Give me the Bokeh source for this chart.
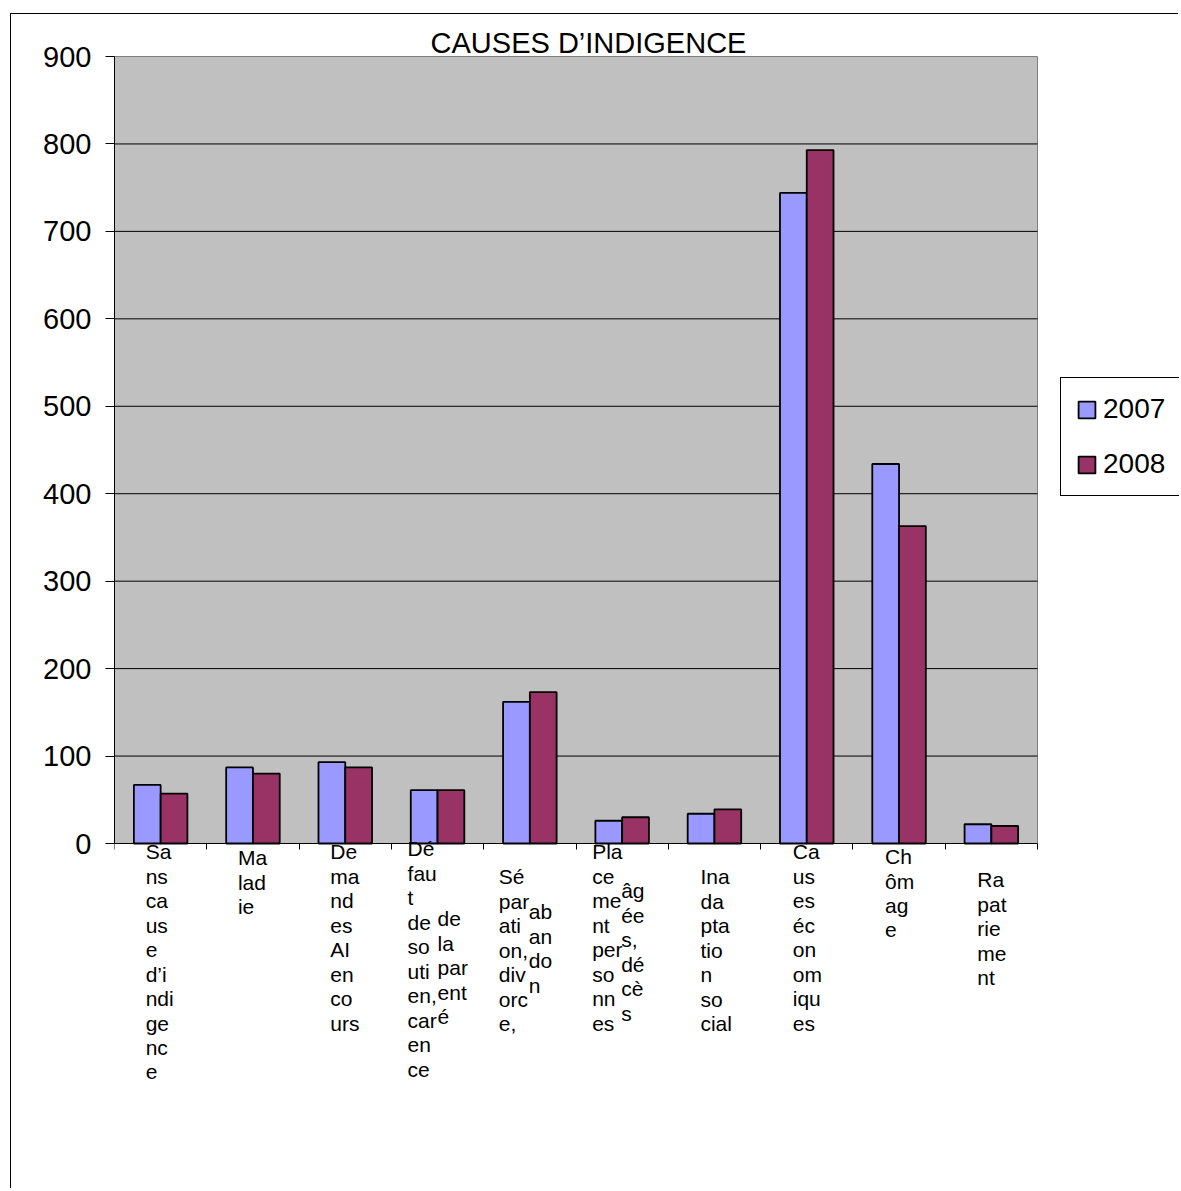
from bokeh.plotting import figure
from bokeh.models import (ColumnDataSource, FixedTicker, Label, Legend, LegendItem,
                          Range1d, BoxAnnotation)
from bokeh.embed import file_html
from bokeh.resources import INLINE

# ---------------- data ----------------
categories = [
    "Sans cause d’indigence",
    "Maladie",
    "Demandes AI en cours",
    "Défaut de soutien, carence de la parenté",
    "Séparation, divorce, abandon",
    "Placement personnes âgées, décès",
    "Inadaptation social",
    "Causes économiques",
    "Chômage",
    "Rapatriement",
]
series_names = ["2007", "2008"]
values_2007 = [67, 87, 93, 61, 162, 26, 34, 744, 434, 22]
values_2008 = [57, 80, 87, 61, 173, 30, 39, 793, 363, 20]
y_ticks = [0, 100, 200, 300, 400, 500, 600, 700, 800, 900]
title_text = "CAUSES D’INDIGENCE"

# wrapped label text as shown (columns of line fragments), per category
label_columns = [
    [["Sa", "ns", "ca", "us", "e", "d’i", "ndi", "ge", "nc", "e"]],
    [["Ma", "lad", "ie"]],
    [["De", "ma", "nd", "es", "AI", "en", "co", "urs"]],
    [["Dé", "fau", "t", "de", "so", "uti", "en,", "car", "en", "ce"],
     ["de", "la", "par", "ent", "é"]],
    [["Sé", "par", "ati", "on,", "div", "orc", "e,"],
     ["ab", "an", "do", "n"]],
    [["Pla", "ce", "me", "nt", "per", "so", "nn", "es"],
     ["âg", "ée", "s,", "dé", "cè", "s"]],
    [["Ina", "da", "pta", "tio", "n", "so", "cial"]],
    [["Ca", "us", "es", "éc", "on", "om", "iqu", "es"]],
    [["Ch", "ôm", "ag", "e"]],
    [["Ra", "pat", "rie", "me", "nt"]],
]
# layout: (dx px from category centre, first line offset px below axis) per column
label_layout = [
    [(-15, 8)],
    [(-15, 14)],
    [(-15, 8)],
    [(-30, 5), (0, 75)],
    [(-31, 33), (-1, 68)],
    [(-30, 8), (-1, 47)],
    [(-14, 33)],
    [(-14, 8)],
    [(-14, 13)],
    [(-14, 36)],
]

# ---------------- layout constants ----------------
W, H = 1168, 1175            # canvas (page origin at 11, 14)
OX, OY = 11, 14
ML, MB = 103, 30              # frame starts 103 px in, ends 30 px above bottom
PLOT_L, PLOT_R = 114, 1037    # page px of plot area
PLOT_T, PLOT_B = 56, 843
N = len(categories)
YMAX = 900
ux = (PLOT_R - PLOT_L) / N            # px per x unit
uy = (PLOT_B - PLOT_T) / YMAX          # px per y unit
frame_w = W - ML
frame_top, frame_bottom = OY, OY + H - MB
x_end = frame_w / ux
y_end = YMAX + (PLOT_T - frame_top) / uy
y_start = -(frame_bottom - PLOT_B) / uy

LINE_H = 24.5
FONT = "Liberation Sans"
C2007 = "#9999FF"
C2008 = "#993366"
BAR_W = 0.29

idx = list(range(N))
src = ColumnDataSource(dict(
    x07=[i + 0.5 - BAR_W / 2 for i in idx],
    x08=[i + 0.5 + BAR_W / 2 for i in idx],
    v07=values_2007,
    v08=values_2008,
))

p = figure(width=W, height=H, output_backend="svg", toolbar_location=None,
           x_range=Range1d(0, x_end), y_range=Range1d(y_start, y_end),
           min_border_left=ML, min_border_right=0,
           min_border_top=0, min_border_bottom=MB)
p.title = None
p.styles = {"margin-left": "10px", "margin-top": "13px",
            "border-left": "1px solid #000000", "border-top": "1px solid #000000"}

p.background_fill_color = "white"
p.border_fill_color = "white"
p.outline_line_color = None
p.xgrid.visible = False
p.ygrid.visible = False

# plot area
p.add_layout(BoxAnnotation(left=0, right=N, bottom=0, top=YMAX,
                           fill_color="#C0C0C0", fill_alpha=1,
                           line_color="#808080", line_alpha=1, line_width=1,
                           level="underlay"))
# gridlines
grid_vals = y_ticks[1:-1]
p.segment(x0=[0] * len(grid_vals), x1=[N] * len(grid_vals), y0=grid_vals, y1=grid_vals,
          line_color="black", line_width=1)

r07 = p.vbar(x="x07", top="v07", width=BAR_W, bottom=0, source=src,
             fill_color=C2007, line_color="black", line_width=1.8)
r08 = p.vbar(x="x08", top="v08", width=BAR_W, bottom=0, source=src,
             fill_color=C2008, line_color="black", line_width=1.8)

# axes
p.yaxis.ticker = FixedTicker(ticks=y_ticks)
p.yaxis.bounds = (0, YMAX)
p.yaxis.major_label_text_font = FONT
p.yaxis.major_label_text_font_size = "29px"
p.yaxis.major_label_text_color = "black"
p.yaxis.major_tick_out = 9
p.yaxis.major_tick_in = 0
p.yaxis.minor_tick_out = 0
p.yaxis.minor_tick_in = 0
p.yaxis.major_label_standoff = 14
p.yaxis.axis_line_color = "black"
p.yaxis.major_tick_line_color = "black"

p.xaxis.ticker = FixedTicker(ticks=list(range(N + 1)))
p.xaxis.fixed_location = 0
p.xaxis.bounds = (0, N)
p.xaxis.major_label_text_alpha = 0
p.xaxis.major_label_text_font_size = "1px"
p.xaxis.major_label_standoff = 0
p.xaxis.major_tick_out = 6
p.xaxis.major_tick_in = 0
p.xaxis.minor_tick_out = 0
p.xaxis.minor_tick_in = 0
p.xaxis.axis_line_color = "black"
p.xaxis.major_tick_line_color = "black"

# title
p.add_layout(Label(x=(588 - PLOT_L) / ux, y=YMAX + 14 / uy, text=title_text,
                   text_align="center", text_baseline="middle",
                   text_font=FONT, text_font_size="29px", text_color="black"))

# category labels
for i, (cols, lays) in enumerate(zip(label_columns, label_layout)):
    for lines, (dx, dy0) in zip(cols, lays):
        for k, t in enumerate(lines):
            p.add_layout(Label(x=i + 0.5 + dx / ux,
                               y=-(dy0 + k * LINE_H) / uy,
                               text=t, text_align="left", text_baseline="middle",
                               text_font=FONT, text_font_size="21px",
                               text_color="black"))

# legend
legend = Legend(items=[LegendItem(label=series_names[0], renderers=[r07]),
                       LegendItem(label=series_names[1], renderers=[r08])],
                location=(1060 - PLOT_L, frame_bottom - 496),
                label_text_font=FONT, label_text_font_size="28px",
                label_text_color="black",
                glyph_width=21, glyph_height=21, label_height=28,
                label_standoff=6, spacing=23, padding=15, margin=0,
                border_line_color="black", border_line_alpha=1, border_line_width=1,
                background_fill_color="white", background_fill_alpha=1)
p.add_layout(legend, "center")

open("out.html", "w").write(file_html(p, INLINE))
